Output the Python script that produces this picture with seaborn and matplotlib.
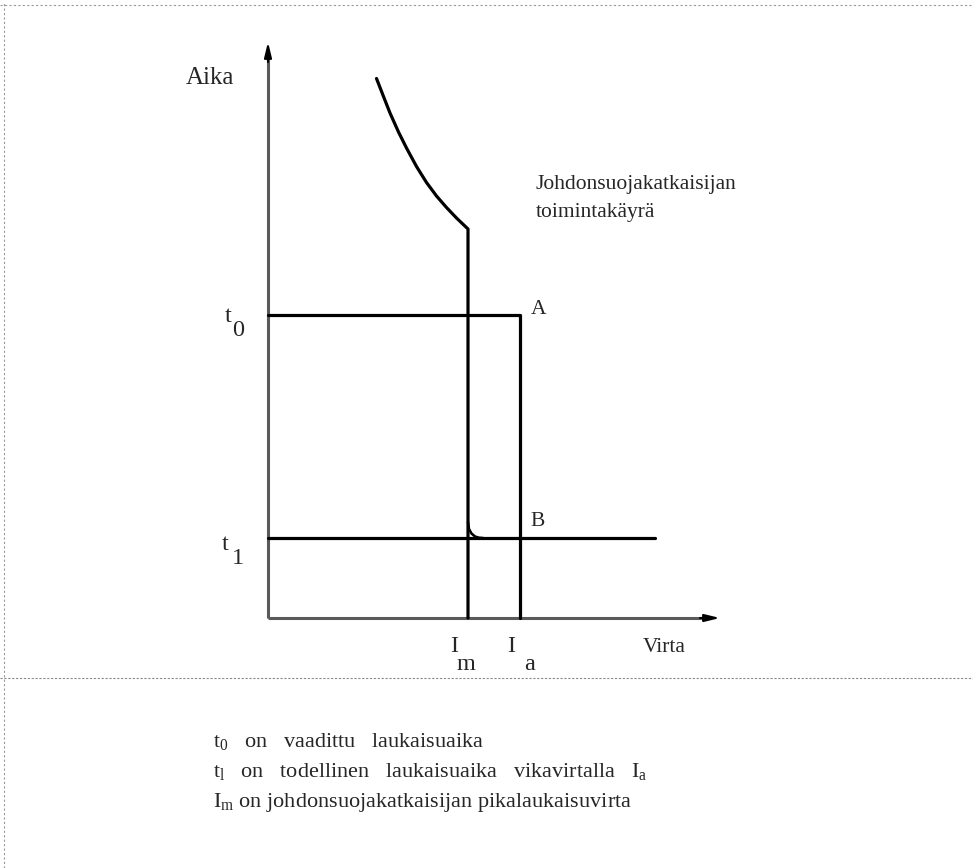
import matplotlib
matplotlib.use("Agg")
import matplotlib.pyplot as plt
import seaborn as sns
import pandas as pd

# ---- data (arbitrary units: current on x, time on y) ----
curve_current = [2.17, 2.31, 2.44, 2.61, 2.77, 2.97, 3.17, 3.37, 3.57, 3.77, 4.00, 4.00]
curve_time = [10.79, 10.43, 10.10, 9.72, 9.40, 9.03, 8.71, 8.44, 8.21, 8.00, 7.78, 0.0]
fillet_current = [4.00, 4.02, 4.07, 4.14, 4.22, 4.30]
fillet_time = [1.92, 1.78, 1.69, 1.63, 1.605, 1.60]
I_m = 4.0
I_a = 5.04
t_0 = 6.06
t_1 = 1.60
t1_line_end = 7.74
x_axis_end = 9.04
y_axis_end = 11.52

sns.set_style("white")
plt.rcParams["font.family"] = ["Liberation Serif", "DejaVu Serif"]
plt.rcParams["mathtext.fontset"] = "custom"
plt.rcParams["mathtext.rm"] = "Liberation Serif"
plt.rcParams["mathtext.it"] = "Liberation Serif"

fig = plt.figure(figsize=(9.73, 8.68), dpi=100)
ax = fig.add_axes([0, 0, 1, 1])
ax.set_xlim(-5.36, 14.1)
ax.set_ylim(-5.0, 12.36)
ax.axis("off")

LW = 2.3
AX_COL = "#5a5a5a"

# axes lines
ax.plot([0, x_axis_end - 0.3], [0, 0], color=AX_COL, lw=2.2, solid_capstyle="butt")
ax.plot([0, 0], [0, y_axis_end - 0.3], color=AX_COL, lw=2.2, solid_capstyle="butt")
ax.annotate("", xy=(x_axis_end, 0), xytext=(x_axis_end - 0.4, 0),
            arrowprops=dict(arrowstyle="-|>,head_length=0.9,head_width=0.22",
                            color="black", lw=1.5, shrinkA=0, shrinkB=0))
ax.annotate("", xy=(0, y_axis_end), xytext=(0, y_axis_end - 0.4),
            arrowprops=dict(arrowstyle="-|>,head_length=0.9,head_width=0.22",
                            color="black", lw=1.5, shrinkA=0, shrinkB=0))

# breaker characteristic curve
df_curve = pd.DataFrame({"I": curve_current, "t": curve_time})
sns.lineplot(data=df_curve, x="I", y="t", sort=False, estimator=None,
             color="black", lw=LW, ax=ax)
ax.lines[-1].set_solid_joinstyle("round")
df_fillet = pd.DataFrame({"I": fillet_current, "t": fillet_time})
sns.lineplot(data=df_fillet, x="I", y="t", sort=False, estimator=None,
             color="black", lw=LW * 0.8, ax=ax)

# t0 rectangle to point A and t1 line
df_t0 = pd.DataFrame({"I": [0, I_a, I_a], "t": [t_0, t_0, 0]})
sns.lineplot(data=df_t0, x="I", y="t", sort=False, estimator=None,
             color="black", lw=LW, ax=ax)
df_t1 = pd.DataFrame({"I": [0, t1_line_end], "t": [t_1, t_1]})
sns.lineplot(data=df_t1, x="I", y="t", sort=False, estimator=None,
             color="black", lw=LW, ax=ax)

# labels
FS = 15.5
ax.text(-1.16, 10.8, "Aika", fontsize=18, ha="center", va="center")
ax.text(7.92, 0.0 - 0.58, "Virta", fontsize=FS, ha="center", va="center")
ax.text(5.36, 8.68, "Johdonsuojakatkaisijan", fontsize=FS, ha="left", va="center")
ax.text(5.36, 8.12, "toimintakäyrä", fontsize=FS, ha="left", va="center")
ax.text(I_a + 0.38, t_0 + 0.1, "A", fontsize=FS, ha="center", va="center")
ax.text(I_a + 0.36, t_1 + 0.34, "B", fontsize=FS, ha="center", va="center")

ax.text(-0.8, t_0 - 0.04, "t", fontsize=FS + 2, ha="center", va="center")
ax.text(-0.6, t_0 - 0.32, "0", fontsize=FS + 2, ha="center", va="center")
ax.text(-0.86, t_1 - 0.12, "t", fontsize=FS + 2, ha="center", va="center")
ax.text(-0.6, t_1 - 0.42, "1", fontsize=FS + 2, ha="center", va="center")

ax.text(I_m - 0.28, -0.58, "I", fontsize=FS + 2, ha="center", va="center")
ax.text(I_m - 0.04, -0.94, "m", fontsize=FS + 2, ha="center", va="center")
ax.text(I_a - 0.18, -0.58, "I", fontsize=FS + 2, ha="center", va="center")
ax.text(I_a + 0.2, -0.94, "a", fontsize=FS + 2, ha="center", va="center")

# separator and borders
ax.plot([-5.36, 14.1], [-1.2, -1.2], color="#8a8a8a", lw=0.8, ls=(0, (2, 1.5)))
ax.plot([-5.28, -5.28], [-5.0, 12.3], color="#9a9a9a", lw=0.8, ls=(0, (2, 2)))
ax.plot([-5.36, 14.1], [12.26, 12.26], color="#9a9a9a", lw=0.8, ls=(0, (2, 2)))

# explanation text
BFS = 16
ax.text(-1.1, -2.46, r"$\mathrm{t_{0}}$   on   vaadittu   laukaisuaika", fontsize=BFS,
        ha="left", va="center")
ax.text(-1.1, -3.06, r"$\mathrm{t_{l}}$   on   todellinen   laukaisuaika   vikavirtalla   $\mathrm{I_{a}}$",
        fontsize=BFS, ha="left", va="center")
ax.text(-1.1, -3.70, r"$\mathrm{I_{m}}$ on johdonsuojakatkaisijan pikalaukaisuvirta",
        fontsize=BFS, ha="left", va="center")

fig.savefig("out.png", dpi=100)
